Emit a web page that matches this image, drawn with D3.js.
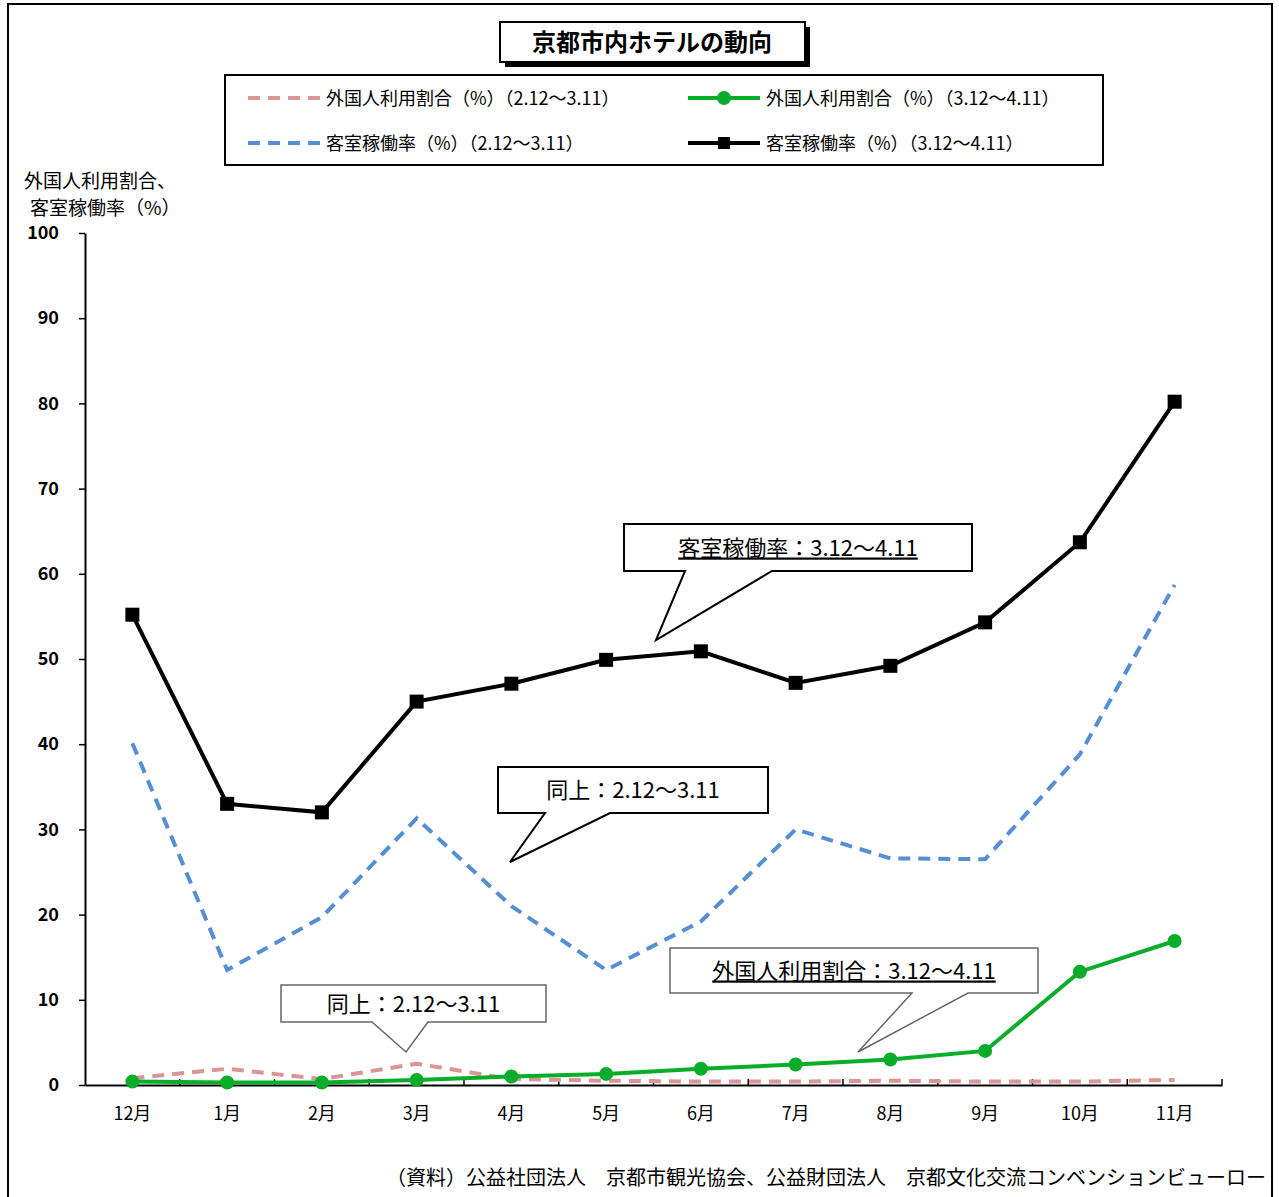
<!DOCTYPE html>
<html><head><meta charset="utf-8">
<script src="https://cdn.jsdelivr.net/npm/d3@7"></script>
<style>body{margin:0;background:#fff}text{font-family:"Noto Sans CJK JP","Noto Sans",sans-serif}</style>
</head><body>
<svg id="c" width="1279" height="1197"></svg>
<script>
const months = ['12月','1月','2月','3月','4月','5月','6月','7月','8月','9月','10月','11月']
const occNew = [55.2,33.0,32.0,45.0,47.1,49.9,50.9,47.2,49.2,54.3,63.7,80.2]
const occOld = [40.1,13.5,19.7,31.3,21.0,13.5,19.2,30.0,26.6,26.5,38.8,58.7]
const forNew = [0.4,0.3,0.3,0.6,1.0,1.3,1.9,2.4,3.0,4.0,13.3,16.9]
const forOld = [0.8,1.9,0.7,2.5,0.7,0.5,0.4,0.4,0.5,0.4,0.4,0.6]
const yTicks = [0,10,20,30,40,50,60,70,80,90,100]

const svg = d3.select('#c')
// outer frame
svg.append('rect').attr('x',8).attr('y',4).attr('width',1264).attr('height',1200)
	.attr('fill','none').attr('stroke','#000').attr('stroke-width',2)

const x = d3.scaleBand().domain(months).range([85,1222])
const y = d3.scaleLinear().domain([0,100]).range([1085,233])
const cx = m => x(m) + x.bandwidth()/2

// y axis
const ya = svg.append('g').attr('transform','translate(85,0)')
	.call(d3.axisLeft(y).tickValues(yTicks).tickSize(6).tickSizeOuter(0))
ya.select('.domain').attr('stroke-width',2)
ya.selectAll('line').attr('stroke-width',1.5)
ya.selectAll('text').attr('font-size',18).attr('font-weight','bold').attr('x',-26)
	.attr('font-family','Liberation Sans, Arial')
// x axis
const xa = svg.append('g').attr('transform','translate(0,1085)')
	.call(d3.axisBottom(x).tickSize(0).tickSizeOuter(0))
xa.select('.domain').attr('stroke-width',2)
xa.selectAll('text').attr('font-size',18).attr('dy',32)
svg.append('g').selectAll('line').data(months.slice(1).concat(['end'])).join('line')
	.attr('x1',(d,i)=>85+x.step()*(i+1)).attr('x2',(d,i)=>85+x.step()*(i+1))
	.attr('y1',1085).attr('y2',1079).attr('stroke','#000').attr('stroke-width',1.5)

const line = d3.line().x((d,i)=>cx(months[i])).y(d=>y(d))
svg.append('path').attr('d',line(forOld)).attr('fill','none').attr('stroke','#d99694').attr('stroke-width',4).attr('stroke-dasharray','12,8')
svg.append('path').attr('d',line(occOld)).attr('fill','none').attr('stroke','#558ed5').attr('stroke-width',4).attr('stroke-dasharray','12,8')
svg.append('path').attr('d',line(forNew)).attr('fill','none').attr('stroke','#0aad2a').attr('stroke-width',4)
svg.append('g').selectAll('circle').data(forNew).join('circle')
	.attr('cx',(d,i)=>cx(months[i])).attr('cy',d=>y(d)).attr('r',7).attr('fill','#0aad2a')
svg.append('path').attr('d',line(occNew)).attr('fill','none').attr('stroke','#000').attr('stroke-width',4)
svg.append('g').selectAll('rect').data(occNew).join('rect')
	.attr('x',(d,i)=>cx(months[i])-7).attr('y',d=>y(d)-7).attr('width',14).attr('height',14).attr('fill','#000')

// y label
svg.append('text').attr('x',24).attr('y',188).attr('font-size',19).text('外国人利用割合、')
svg.append('text').attr('x',30).attr('y',215).attr('font-size',19).text('客室稼働率（%）')

// title
svg.append('rect').attr('x',505).attr('y',27).attr('width',305).attr('height',40).attr('fill','#000')
svg.append('rect').attr('x',500).attr('y',22).attr('width',305).attr('height',40).attr('fill','#fff').attr('stroke','#000').attr('stroke-width',2)
svg.append('text').attr('x',652).attr('y',51).attr('text-anchor','middle').attr('font-size',24).attr('font-weight','bold').text('京都市内ホテルの動向')

// legend
svg.append('rect').attr('x',225).attr('y',75).attr('width',878).attr('height',90).attr('fill','#fff').attr('stroke','#000').attr('stroke-width',2)
const leg = [
	{t:'外国人利用割合（%）（2.12～3.11）',c:'#d99694',dash:true,x:248,y:98},
	{t:'外国人利用割合（%）（3.12～4.11）',c:'#0aad2a',m:'c',x:688,y:98},
	{t:'客室稼働率（%）（2.12～3.11）',c:'#558ed5',dash:true,x:248,y:143},
	{t:'客室稼働率（%）（3.12～4.11）',c:'#000',m:'s',x:688,y:143}]
leg.forEach(l=>{
	svg.append('line').attr('x1',l.x).attr('x2',l.x+72).attr('y1',l.y).attr('y2',l.y)
		.attr('stroke',l.c).attr('stroke-width',4).attr('stroke-dasharray',l.dash?'12,8':null)
	if(l.m==='c') svg.append('circle').attr('cx',l.x+36).attr('cy',l.y).attr('r',7).attr('fill',l.c)
	if(l.m==='s') svg.append('rect').attr('x',l.x+30).attr('y',l.y-6).attr('width',12).attr('height',12).attr('fill',l.c)
	svg.append('text').attr('x',l.x+78).attr('y',l.y+7).attr('font-size',18).text(l.t)
})

// callouts
function callout(bx,by,bw,bh,pts,label,under,stroke){
	const p = d3.path()
	p.moveTo(bx,by); p.lineTo(bx+bw,by); p.lineTo(bx+bw,by+bh)
	p.lineTo(pts[2][0],by+bh); p.lineTo(pts[1][0],pts[1][1]); p.lineTo(pts[0][0],by+bh)
	p.lineTo(bx,by+bh); p.closePath()
	svg.append('path').attr('d',p.toString()).attr('fill','#fff').attr('stroke',stroke).attr('stroke-width',stroke==='#000'?2:1.5)
	const t = svg.append('text').attr('x',bx+bw/2).attr('y',by+bh/2+8).attr('text-anchor','middle').attr('font-size',22).text(label)
	if(under) t.attr('text-decoration','underline')
}
callout(624,524,348,47,[[685],[656,640],[772]],'客室稼働率：3.12～4.11',true,'#000')
callout(498,767,270,46,[[545],[510,862],[610]],'同上：2.12～3.11',false,'#000')
callout(670,948,368,45,[[912],[858,1052],[968]],'外国人利用割合：3.12～4.11',true,'#666')
callout(281,985,265,37,[[372],[406,1052],[428]],'同上：2.12～3.11',false,'#666')

svg.append('text').attr('x',1266).attr('y',1185).attr('text-anchor','end').attr('font-size',20)
	.text('（資料）公益社団法人　京都市観光協会、公益財団法人　京都文化交流コンベンションビューロー')
</script>
</body></html>
